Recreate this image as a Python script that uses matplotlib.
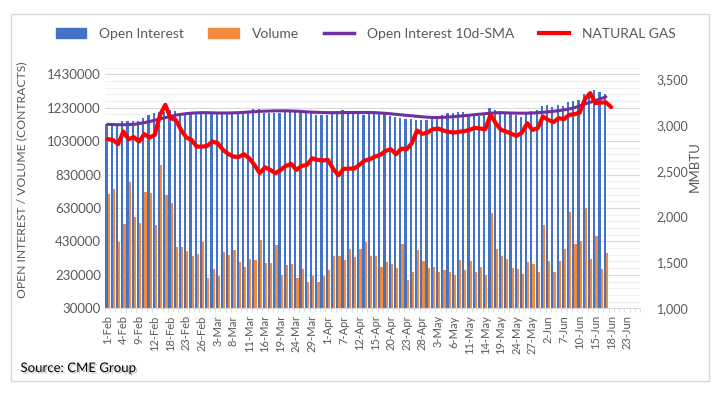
#!/usr/bin/env python3
from matplotlib import pyplot as plt
from matplotlib.patches import Patch, Rectangle
from matplotlib.lines import Line2D
import matplotlib.patheffects as pe
import matplotlib.ticker as mticker
import numpy as np
import pandas as pd

plt.rcParams['font.family'] = ['Lato', 'DejaVu Sans']

# trading days, Feb 1 - Jun 25 2021 (US holidays skipped)
holidays = ['2021-02-15', '2021-04-02', '2021-05-31']
days = pd.bdate_range('2021-02-01', '2021-06-25', freq='C', holidays=holidays)
day_labels = ["{}-{}".format(d.day, d.strftime('%b')) for d in days]

# values in thousands of contracts
open_interest = [
    1132, 1128, 1128, 1148, 1148, 1153, 1153, 1171, 1189, 1195, 1201, 1205, 1215,
    1207, 1199, 1199, 1195, 1195, 1197, 1197, 1195, 1193, 1195, 1195, 1195,
    1190, 1195, 1197, 1221, 1219, 1195, 1195, 1199, 1199, 1203, 1207, 1207, 1207,
    1203, 1195, 1187, 1187, 1187, 1191, 1211, 1217, 1195, 1191, 1191, 1187, 1195,
    1203, 1199, 1195, 1181, 1175, 1167, 1161, 1165, 1156, 1158, 1156, 1167, 1175,
    1187, 1195, 1199, 1201, 1205, 1181, 1181, 1181, 1185, 1227, 1215, 1211,
    1192, 1192, 1186, 1177, 1197, 1211, 1215, 1237, 1245, 1231, 1243, 1241, 1265,
    1271, 1277, 1311, 1320, 1336, 1326, 1314]
volume = [
    715, 742, 425, 532, 784, 576, 540, 725, 717, 528, 885, 705, 657, 397, 397,
    371, 343, 352, 427, 212, 264, 224, 365, 349, 379,
    308, 278, 324, 318, 437, 302, 302, 407, 228, 290, 296, 210, 264, 187, 224,
    187, 224, 260, 343, 343, 318, 383, 337, 383, 425, 343,
    343, 278, 308, 296, 272, 415, 199, 248, 379, 314, 272, 278, 248, 258, 248,
    228, 320, 260, 312, 248, 278, 228, 598, 385, 343,
    322, 272, 264, 234, 304, 294, 248, 526, 314, 248, 314, 383, 606, 417, 431,
    629, 324, 462, 264, 358]
oi_sma = [
    1130, 1129, 1128, 1128, 1129, 1130, 1135, 1140, 1147, 1155, 1163, 1170,
    1178, 1185, 1190, 1194, 1197, 1199, 1200, 1200, 1199, 1198, 1198, 1198, 1199,
    1200, 1202, 1204, 1206, 1208, 1209, 1210, 1211, 1211, 1211, 1210, 1209, 1207,
    1205, 1203, 1202, 1201, 1200, 1200, 1200, 1201, 1201, 1201, 1201, 1201, 1201,
    1200, 1198, 1196, 1193, 1190, 1187, 1184, 1181, 1178, 1175, 1173, 1171,
    1171, 1172, 1174, 1176, 1179, 1182, 1185, 1188, 1191, 1194, 1197, 1199, 1200,
    1199, 1198, 1197, 1197, 1197, 1198, 1200, 1202, 1205, 1208, 1212, 1217, 1222,
    1230, 1240, 1252, 1262, 1272, 1283, 1295]
# natural gas price, right axis
gas = [
    2844, 2836, 2789, 2927, 2844, 2866, 2818, 2898, 2862, 2891, 3109, 3218, 3073,
    3054, 2945, 2862, 2836, 2763, 2763, 2770, 2818, 2800, 2727, 2683, 2654,
    2650, 2680, 2636, 2563, 2473, 2538, 2509, 2473, 2509, 2552, 2574, 2509, 2552,
    2563, 2636, 2618, 2611, 2618, 2520, 2451, 2520, 2523, 2523, 2563, 2611, 2625,
    2654, 2673, 2716, 2734, 2680, 2741, 2734, 2800, 2938, 2902, 2916, 2953, 2960,
    2938, 2924, 2916, 2924, 2931, 2945, 2967, 2960, 2953, 3109, 3018, 2945,
    2927, 2902, 2880, 2916, 3018, 2945, 2964, 3090, 3054, 3029, 3073, 3062, 3109,
    3116, 3134, 3280, 3346, 3237, 3243, 3245, 3193]

blue = '#4472C4'
orange = '#F28C3C'
purple = '#7030A0'
red = '#FF0000'
gray_txt = '#595959'

fig = plt.figure(figsize=(7.24, 3.96), dpi=100)
ax = fig.add_axes([0.145, 0.2215, 0.739, 0.608])
ax2 = ax.twinx()

x = np.arange(len(open_interest))
oi = np.array(open_interest) * 1000
vol = np.array(volume) * 1000
sma = np.array(oi_sma) * 1000

ax.bar(x - 0.21, oi, width=0.42, color=blue, zorder=2)
ax.bar(x + 0.21, vol, width=0.42, color=orange, zorder=2)
ax.plot(x, sma, color=purple, lw=2.2, zorder=3, solid_capstyle='round')
ax2.plot(np.arange(len(gas)), gas, color=red, lw=3, solid_capstyle='round',
         solid_joinstyle='round')

ax.set_xlim(-0.5, len(days) - 0.5)
ax.set_ylim(30000, 1470000)
ax.yaxis.set_major_locator(mticker.FixedLocator(np.arange(30000, 1430001, 200000)))
ax.yaxis.set_minor_locator(mticker.FixedLocator(np.arange(30000, 1470001, 40000)))
ax.yaxis.set_major_formatter(mticker.FuncFormatter(lambda v, p: "{:.0f}".format(v)))
ax.grid(axis='y', which='minor', color='#F0F0F0', lw=0.8, zorder=0)
ax.grid(axis='y', which='major', color='#D9D9D9', lw=0.8, zorder=0)
ax.set_axisbelow(True)

ax2.set_ylim(1000, 3625)
ax2.set_yticks(np.arange(1000, 3501, 500))
ax2.yaxis.set_major_formatter(mticker.FuncFormatter(lambda v, p: "{:,.0f}".format(v)))

x_ticks = np.arange(0, len(days), 3)
ax.set_xticks(x_ticks)
ax.set_xticklabels([day_labels[i] for i in x_ticks], rotation=90)
ax.set_xticks(np.arange(-0.5, len(days), 1), minor=True)

for a in (ax, ax2):
    for s in ('top', 'left', 'right'):
        a.spines[s].set_visible(False)
    a.spines['bottom'].set_color('#D9D9D9')
ax2.spines['bottom'].set_visible(False)

ax.tick_params(axis='x', which='major', length=0, pad=5, labelsize=8, labelcolor=gray_txt)
ax.tick_params(axis='x', which='minor', length=3, color='#D9D9D9')
ax.tick_params(axis='y', which='both', length=0, pad=3, labelsize=9.5, labelcolor=gray_txt)
ax2.tick_params(axis='y', which='both', length=0, pad=12, labelsize=9, labelcolor=gray_txt)

ax.set_ylabel("OPEN INTEREST / VOLUME (CONTRACTS)", fontsize=8.7, color=gray_txt)
ax.yaxis.set_label_coords(-0.145, 0.535)
ax2.set_ylabel("MMBTU", fontsize=9.5, color=gray_txt, rotation=90)
ax2.yaxis.set_label_coords(1.092, 0.587)

handles = [Patch(color=blue), Patch(color=orange),
           Line2D([], [], color=purple, lw=2.5), Line2D([], [], color=red, lw=3)]
labels = ['Open Interest', 'Volume', 'Open Interest 10d-SMA', 'NATURAL GAS']
leg = fig.legend(handles, labels, loc='center', bbox_to_anchor=(0.505, 0.914), ncol=4,
                 frameon=False, fontsize=10, handlelength=2.2, handleheight=0.7,
                 columnspacing=1.8, handletextpad=0.9)
for t in leg.get_texts():
    t.set_color(gray_txt)

fig.patches.append(Rectangle((10.7 / 724, 1 - 381 / 396), 698 / 724, 367 / 396,
                             transform=fig.transFigure, fill=False,
                             edgecolor='#D9D9D9', lw=1))

fig.text(20.5 / 724, 1 - 368 / 396, "Source: CME Group", fontsize=9.5, color='black',
         va='center', ha='left',
         path_effects=[pe.withSimplePatchShadow(offset=(1.2, -1.2), shadow_rgbFace='#888888', alpha=0.5)])

fig.savefig('out.png', dpi=100)
